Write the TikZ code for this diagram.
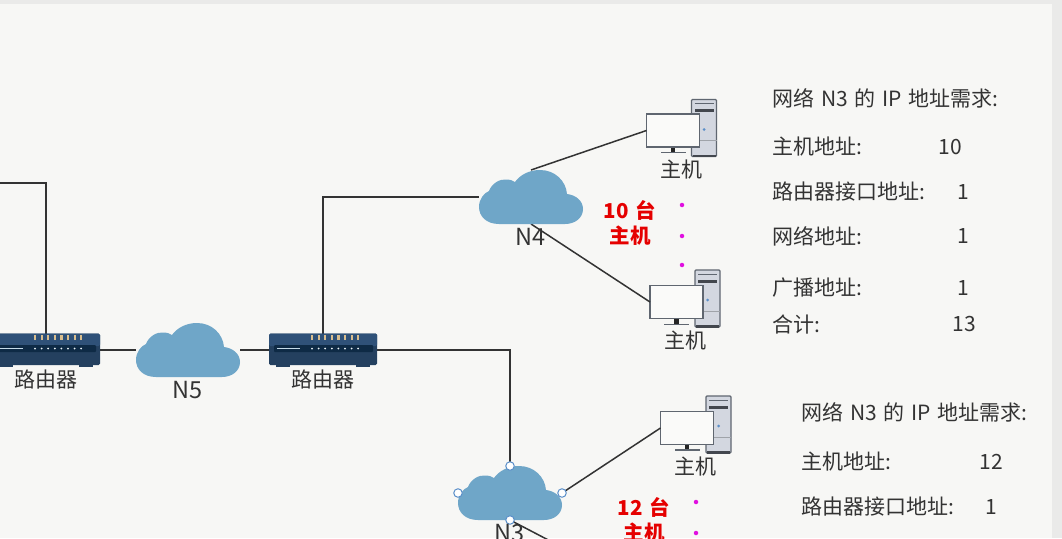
\documentclass[tikz,border=0pt]{standalone}
\usepackage{fontspec}
\setmainfont[WordSpace=1.45]{Noto Sans CJK SC}
\definecolor{ink}{HTML}{333333}
\definecolor{pagebg}{HTML}{F7F7F5}
\definecolor{edgebg}{HTML}{EAEAE9}
\definecolor{cloudblue}{HTML}{6FA6C8}
\definecolor{routertop}{HTML}{2F5178}
\definecolor{routerbot}{HTML}{24405F}
\definecolor{routerslot}{HTML}{0E2A45}
\definecolor{ledtan}{HTML}{D9BE8E}
\definecolor{towerfill}{HTML}{D3D7E0}
\definecolor{towerline}{HTML}{5F6670}
\definecolor{handleblue}{HTML}{5B8FC9}
\definecolor{dotmag}{HTML}{E010E0}
\tikzset{
  x=1pt,y=-1pt,
  wire/.style={draw=ink,line width=1.5pt},
  anchorbox/.style={inner sep=0pt,outer sep=0pt,minimum width=#1},
  cloudbox/.style={anchorbox=104pt,minimum height=54pt},
  routerbox/.style={anchorbox=108pt,minimum height=33pt},
  screenbox/.style={anchorbox=53pt,minimum height=33pt,draw=towerline,line width=1.3pt,fill=pagebg!60!white},
  lab/.style={text=ink,font=\fontsize{21}{25}\selectfont,inner sep=0pt},
  netlab/.style={text=ink,font=\fontsize{23.5}{28}\selectfont,inner sep=0pt},
  info/.style={text=ink,font=\fontsize{21}{25}\selectfont,inner sep=0pt,anchor=west},
  num/.style={text=ink,font=\fontsize{21}{25}\selectfont,inner sep=0pt},
  redlab/.style={text=red!90!black,font=\fontsize{20.5}{25}\selectfont\bfseries,inner sep=0pt},
  dotm/.style={circle,fill=dotmag,inner sep=0pt,minimum size=4.5pt},
  handle/.style={circle,draw=handleblue,fill=white,line width=1pt,inner sep=0pt,minimum size=8.5pt},
  pics/cloudpic/.style={code={
    \fill[cloudblue] (-32,27) .. controls (-45,27) and (-52,19) .. (-52,10)
      .. controls (-52,2) and (-47,-4) .. (-42,-6)
      .. controls (-39,-14) and (-31,-18) .. (-25,-17.5)
      .. controls (-21,-17.5) and (-18,-16.5) .. (-16,-15)
      .. controls (-11,-22) and (-2,-27) .. (9,-27)
      .. controls (24,-27) and (35,-16) .. (36,-3)
      .. controls (45,-2) and (52,4) .. (52,12)
      .. controls (52,21) and (44,27) .. (34,27) -- cycle;
  }},
  pics/routerpic/.style={code={
    \fill[routerbot,rounded corners=1.5pt] (-54,-16.5) rectangle (54,15);
    \fill[routertop,rounded corners=1.5pt] (-54,-16.5) rectangle (54,-4);
    \fill[routerbot] (-47,15) rectangle (-33,16.5);
    \fill[routerbot] (33,15) rectangle (47,16.5);
    \fill[routerslot,rounded corners=1pt] (-49,-5) rectangle (50,2);
    \fill[white!60!cloudblue] (-46,-2.5) rectangle (-23,-.8);
    \foreach \i in {0,...,7}{
      \fill[white!85!cloudblue] (-11+\i*6.6,-1.5) circle (1);
      \fill[ledtan] (-12+\i*6.6,-15.5) rectangle (-9.8+\i*6.6,-10);
    }
  }},
  pics/towerpic/.style={code={
    \fill[towerfill,draw=towerline,line width=1.2pt,rounded corners=1pt] (0,0) rectangle (25,57);
    \fill[towerline!70!black] (1,55) rectangle (24,57.5);
    \draw[towerline,line width=1pt] (3,4) -- (22,4);
    \fill[towerline!70!black] (3,9.5) rectangle (22,12.5);
    \draw[towerline!60,line width=.7pt] (0,41) -- (25,41);
    \fill[handleblue] (12.5,30) circle (1.5);
  }},
  pics/standpic/.style={code={
    \fill[ink!70!black] (24,0) rectangle (28.5,5.5);
    \fill[towerline] (14,4.5) rectangle (39,6);
  }},
}
\begin{document}
\begin{tikzpicture}
\useasboundingbox (0,0) rectangle (1062,538);
\clip (0,0) rectangle (1062,538);
\fill[edgebg] (0,0) rectangle (1062,538);
\fill[pagebg] (0,4) rectangle (1052,538);

% anchor nodes
\node[routerbox] (r1) at (46,350) {};
\node[routerbox] (r2) at (323,350) {};
\node[cloudbox] (n5) at (188,350) {};
\node[cloudbox] (n4) at (531,197) {};
\node[cloudbox] (n3) at (510,493) {};
\coordinate (topleft) at (0,183);
\coordinate (n3end) at (556,544);

% hosts: towers first, then screens
\pic at (691.5,99.5) {towerpic};
\pic at (695,270) {towerpic};
\pic at (706,396) {towerpic};
\pic at (646.5,147) {standpic};
\pic at (650,319) {standpic};
\pic at (660.5,444.5) {standpic};
\node[screenbox] (h1) at (673,130.5) {};
\node[screenbox] (h2) at (676.5,302) {};
\node[screenbox] (h3) at (687,428) {};

% connectors
\draw[wire] (r1.north) |- (topleft);
\draw[wire] (r1.east) -- (n5.west);
\draw[wire] (n5.east) -- (r2.west);
\draw[wire] (r2.north) |- (n4.west);
\draw[wire] (r2.east) -| (n3.north);
\draw[wire] (n4.north) -- (h1.west);
\draw[wire] (n4.south) -- (h2.west);
\draw[wire] (n3.east) -- (h3.west);
\draw[wire] (n3.south) -- (n3end);

% icons
\pic at (r1) {routerpic};
\pic at (r2) {routerpic};
\pic at (n5) {cloudpic};
\pic at (n4) {cloudpic};
\pic at (n3) {cloudpic};

% selection handles
\node[handle] (ha) at (n3.north) {};
\node[handle] (hb) at (n3.west) {};
\node[handle] (hc) at (n3.east) {};
\node[handle] (hd) at (n3.south) {};

% labels
\node[lab] (lr1) at (46,380) {路由器};
\node[lab] (lr2) at (323,380) {路由器};
\node[netlab] (ln5) at (188,390) {N5};
\node[netlab] (ln4) at (531,237) {N4};
\node[netlab] (ln3) at (510,533) {N3};
\node[lab] (lh1) at (681,170) {主机};
\node[lab] (lh2) at (685,341) {主机};
\node[lab] (lh3) at (695,467) {主机};

\node[redlab] (c1) at (630,210) {10 台};
\node[redlab] (c2) at (630,236) {主机};
\node[redlab] (c3) at (644,507) {12 台};
\node[redlab] (c4) at (644,533) {主机};

\node[dotm] (d1) at (682,205) {};
\node[dotm] (d2) at (682,236) {};
\node[dotm] (d3) at (682,265) {};
\node[dotm] (d4) at (696,502) {};
\node[dotm] (d5) at (696,533) {};

% upper list
\node[info] (a1) at (772,98) {网络 N3 的 IP 地址需求:};
\node[info] (a2) at (772,147) {主机地址:};
\node[num]  (a2n) at (950,147) {10};
\node[info] (a3) at (772,192) {路由器接口地址:};
\node[num]  (a3n) at (963,192) {1};
\node[info] (a4) at (772,236) {网络地址:};
\node[num]  (a4n) at (963,236) {1};
\node[info] (a5) at (772,288) {广播地址:};
\node[num]  (a5n) at (963,288) {1};
\node[info] (a6) at (772,324) {合计:};
\node[num]  (a6n) at (964,324) {13};

% lower list
\node[info] (b1) at (801,412) {网络 N3 的 IP 地址需求:};
\node[info] (b2) at (801,462) {主机地址:};
\node[num]  (b2n) at (991,462) {12};
\node[info] (b3) at (801,507) {路由器接口地址:};
\node[num]  (b3n) at (991,507) {1};
\end{tikzpicture}
\end{document}
